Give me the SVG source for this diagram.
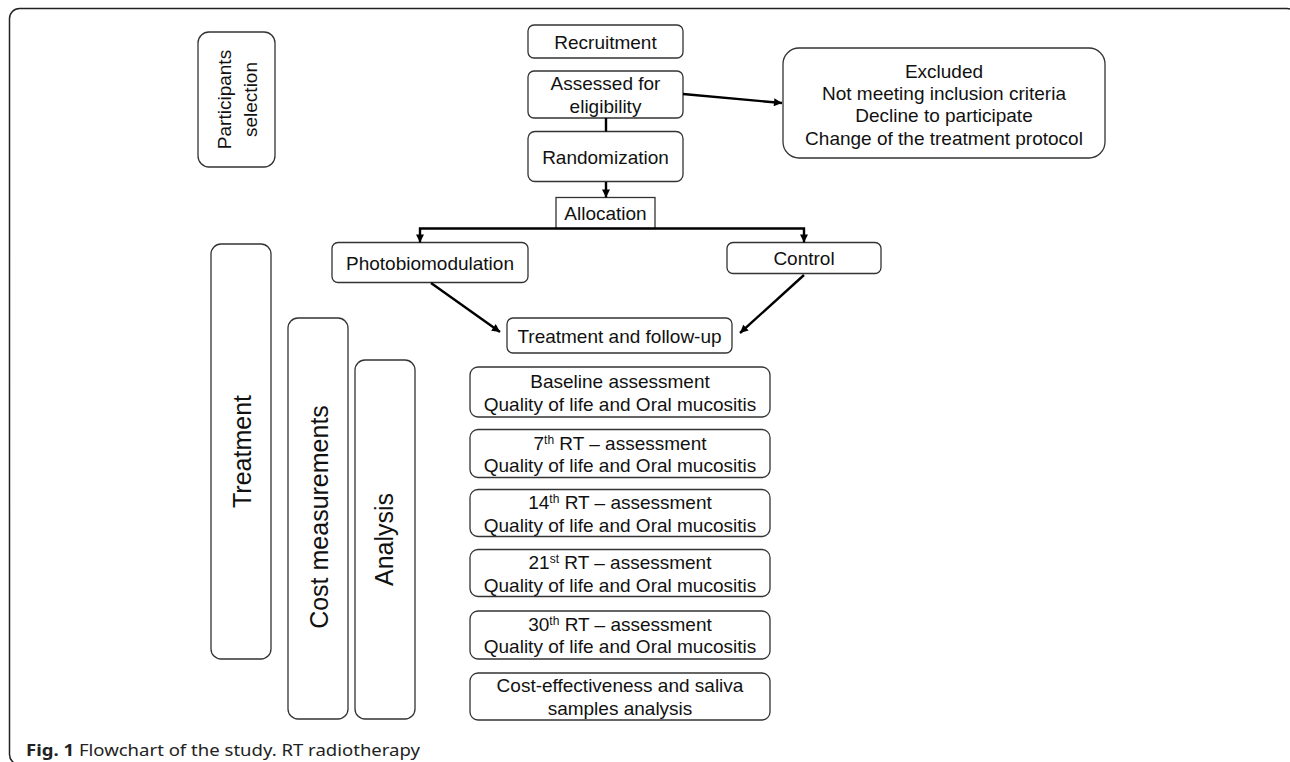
<svg xmlns="http://www.w3.org/2000/svg" width="1290" height="762" viewBox="0 0 1290 762">
<style>
.box{fill:#fff;stroke:#333;stroke-width:1.3}
.t{font-family:"Liberation Sans",Arial,sans-serif;font-size:19px;fill:#111;text-anchor:middle}
.tv{font-family:"Liberation Sans",Arial,sans-serif;font-size:25px;fill:#111;text-anchor:middle}
.sup{font-size:12px}
.c{fill:none;stroke:#000;stroke-width:2.4}
.cap{font-family:"Noto Sans","Open Sans",sans-serif;font-size:16px;fill:#222}
</style>
<defs>
<marker id="ah" viewBox="0 0 10 10" refX="10" refY="5" markerWidth="9" markerHeight="8" markerUnits="userSpaceOnUse" orient="auto">
<path d="M0,0 L10,5 L0,10 z" fill="#000"/>
</marker>
</defs>
<rect width="1290" height="762" fill="#fff"/>
<rect x="9.5" y="8.5" width="1287.5" height="756" rx="10" fill="none" stroke="#222" stroke-width="1.5"/>

<g id="participants">
<rect class="box" x="198" y="32" width="77" height="135" rx="11"/>
<text class="t" transform="translate(231,99.5) rotate(-90)">Participants</text>
<text class="t" transform="translate(256.5,99.5) rotate(-90)">selection</text>
</g>
<g id="treatment-phase">
<rect class="box" x="211" y="244" width="60" height="415" rx="10"/>
<text class="tv" transform="translate(251,451.5) rotate(-90)">Treatment</text>
</g>
<g id="cost-measurements">
<rect class="box" x="288" y="318" width="60" height="401" rx="10"/>
<text class="tv" transform="translate(328,517) rotate(-90)">Cost measurements</text>
</g>
<g id="analysis">
<rect class="box" x="355" y="360" width="60" height="359" rx="10"/>
<text class="tv" transform="translate(393,539.5) rotate(-90)">Analysis</text>
</g>

<g id="recruitment">
<rect class="box" x="528" y="25" width="155" height="33" rx="6"/>
<text class="t" x="605.5" y="49">Recruitment</text>
</g>
<g id="assessed">
<rect class="box" x="528" y="71" width="155" height="47" rx="6"/>
<text class="t" x="605.5" y="90">Assessed for</text>
<text class="t" x="605.5" y="113">eligibility</text>
</g>
<g id="randomization">
<rect class="box" x="528" y="131.5" width="155" height="50" rx="7"/>
<text class="t" x="605.5" y="164">Randomization</text>
</g>
<g id="allocation">
<rect class="box" x="556" y="197.5" width="99" height="31"/>
<text class="t" x="605.5" y="220">Allocation</text>
</g>
<g id="excluded">
<rect class="box" x="783" y="48" width="322" height="110" rx="16"/>
<text class="t" x="944" y="77.5">Excluded</text>
<text class="t" x="944" y="100">Not meeting inclusion criteria</text>
<text class="t" x="944" y="122">Decline to participate</text>
<text class="t" x="944" y="144.5">Change of the treatment protocol</text>
</g>
<g id="photobiomodulation">
<rect class="box" x="332" y="242.5" width="196" height="40" rx="6"/>
<text class="t" x="430" y="270">Photobiomodulation</text>
</g>
<g id="control">
<rect class="box" x="727" y="242.5" width="154" height="31" rx="6"/>
<text class="t" x="804" y="265">Control</text>
</g>
<g id="treatment-followup">
<rect class="box" x="507" y="318" width="225" height="35" rx="6"/>
<text class="t" x="619.5" y="343">Treatment and follow-up</text>
</g>
<g id="baseline">
<rect class="box" x="470" y="367" width="300" height="50" rx="8"/>
<text class="t" x="620" y="388">Baseline assessment</text>
<text class="t" x="620" y="410.5">Quality of life and Oral mucositis</text>
</g>
<g id="rt7">
<rect class="box" x="470" y="429.5" width="300" height="48" rx="8"/>
<text class="t" x="620" y="449.5">7<tspan class="sup" dy="-6">th</tspan><tspan dy="6"> RT – assessment</tspan></text>
<text class="t" x="620" y="471.5">Quality of life and Oral mucositis</text>
</g>
<g id="rt14">
<rect class="box" x="470" y="489.5" width="300" height="47" rx="8"/>
<text class="t" x="620" y="509">14<tspan class="sup" dy="-6">th</tspan><tspan dy="6"> RT – assessment</tspan></text>
<text class="t" x="620" y="532">Quality of life and Oral mucositis</text>
</g>
<g id="rt21">
<rect class="box" x="470" y="549.5" width="300" height="47" rx="8"/>
<text class="t" x="620" y="569">21<tspan class="sup" dy="-6">st</tspan><tspan dy="6"> RT – assessment</tspan></text>
<text class="t" x="620" y="592">Quality of life and Oral mucositis</text>
</g>
<g id="rt30">
<rect class="box" x="470" y="611" width="300" height="48" rx="8"/>
<text class="t" x="620" y="630.5">30<tspan class="sup" dy="-6">th</tspan><tspan dy="6"> RT – assessment</tspan></text>
<text class="t" x="620" y="653">Quality of life and Oral mucositis</text>
</g>
<g id="cost-effectiveness">
<rect class="box" x="470" y="673" width="300" height="47" rx="8"/>
<text class="t" x="620" y="692">Cost-effectiveness and saliva</text>
<text class="t" x="620" y="715">samples analysis</text>
</g>

<g id="connectors">
<line class="c" x1="683" y1="94" x2="782" y2="103" marker-end="url(#ah)"/>
<line class="c" x1="606" y1="118" x2="606" y2="131.5"/>
<line class="c" x1="606" y1="182" x2="606" y2="197.5" marker-end="url(#ah)"/>
<path class="c" d="M606,228.5 H420 V242.5" marker-end="url(#ah)"/>
<path class="c" d="M606,228.5 H804 V242.5" marker-end="url(#ah)"/>
<line class="c" x1="431" y1="283" x2="500" y2="332" marker-end="url(#ah)"/>
<line class="c" x1="804" y1="275" x2="740" y2="333" marker-end="url(#ah)"/>
</g>

<text class="cap" x="26" y="756" textLength="394" lengthAdjust="spacingAndGlyphs"><tspan font-weight="bold">Fig. 1</tspan> Flowchart of the study. RT radiotherapy</text>
</svg>
